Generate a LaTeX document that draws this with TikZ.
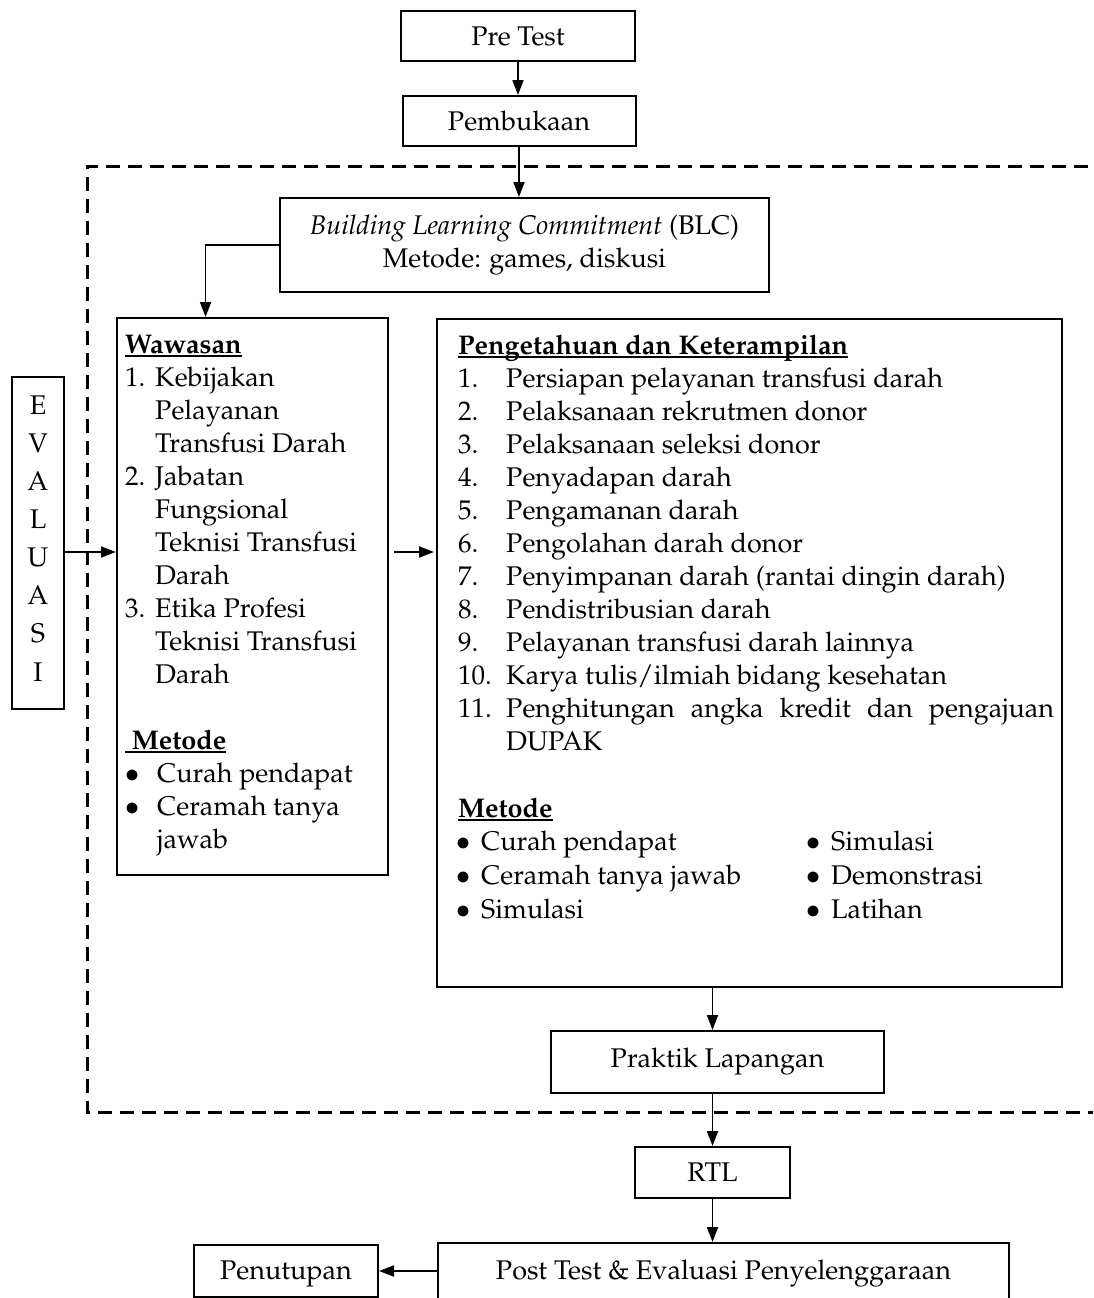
\documentclass[tikz,border=0pt]{standalone}
\usepackage[T1]{fontenc}
\usepackage{mathpazo}
\usetikzlibrary{calc,arrows.meta}

\newcommand\uln[1]{\setbox0\hbox{#1}\rlap{\rule[-4pt]{\wd0}{1.6pt}}\box0}

\tikzset{
  box/.style={draw, line width=2pt, inner sep=0pt, minimum height=50pt},
  flow/.style={-{Triangle[length=15pt,width=11pt]}, line width=1.8pt},
  txt/.style={anchor=west, inner sep=0pt, text height=20pt, text depth=6pt},
}

\begin{document}
\fontsize{27}{33}\selectfont
\begin{tikzpicture}[x=1pt,y=-1pt]
\useasboundingbox (0,0) rectangle (1093,1298);
\clip (0,0) rectangle (1093,1298);

% opening boxes
\node[box, minimum width=234pt] (pretest) at (518,36) {Pre Test};
\node[box, minimum width=233pt] (buka) at (519,121) {Pembukaan};

% dashed frame round the core sessions
\draw[dash pattern=on 14pt off 8pt, line width=3pt] (1110,166) -- (87,166) -- (87,1112) -- (1110,1112);

\node[box, minimum width=489pt, minimum height=94pt, align=center] (blc) at (524.5,245)
  {\textit{Building Learning Commitment} (BLC)\\Metode: games, diskusi};

\node[box, minimum width=271pt, minimum height=557pt] (wawasan) at (252.5,596.5) {};
\node[box, minimum width=625pt, minimum height=668pt] (ilmu) at (749.5,653) {};
\node[box, minimum width=52pt, minimum height=332pt] (eval) at (38,543) {};
\foreach \l [count=\i from 0] in {E,V,A,L,U,A,S,I}
  \node[inner sep=0pt] at (38,{405+\i*38.1}) {\l};

% closing boxes
\node[box, minimum width=333pt, minimum height=62pt] (praktik) at (717.5,1062) {Praktik Lapangan};
\node[box, minimum width=155pt, minimum height=51pt] (rtl) at (712.5,1172.5) {RTL};
\node[box, minimum width=571pt, minimum height=62pt] (post) at (723.5,1274) {Post Test \& Evaluasi Penyelenggaraan};
\node[box, minimum width=184pt, minimum height=52pt, text height=20pt, text depth=4pt] (tutup) at (286,1271) {Penutupan};

% Wawasan list
\node[txt] at (125,346) {\bfseries\uln{Wawasan}};
\foreach \t [count=\i from 0] in {Kebijakan, Pelayanan, Transfusi Darah, Jabatan, Fungsional,
    Teknisi Transfusi, Darah, Etika Profesi, Teknisi Transfusi, Darah}
  \node[txt] at (155,{379+\i*33}) {\t};
\foreach \n/\i in {1./0, 2./3, 3./7}
  \node[txt] at (125,{379+\i*33}) {\n};
\node[txt] at (125,742) {\bfseries\uln{\ Metode}};
\foreach \t/\y in {Curah pendapat/775, Ceramah tanya/808}
  \node[txt] at (125,\y) {$\bullet$};
\foreach \t/\y in {Curah pendapat/775, Ceramah tanya/808, jawab/841}
  \node[txt] at (157,\y) {\t};

% Pengetahuan dan Keterampilan list
\node[txt] at (458,347) {\bfseries\uln{Pengetahuan dan Keterampilan}};
\foreach \t [count=\i] in {Persiapan pelayanan transfusi darah, Pelaksanaan rekrutmen donor,
    Pelaksanaan seleksi donor, Penyadapan darah, Pengamanan darah, Pengolahan darah donor,
    Penyimpanan darah (rantai dingin darah), Pendistribusian darah,
    Pelayanan transfusi darah lainnya, Karya tulis/ilmiah bidang kesehatan}
{
  \node[txt] at (458,{380+(\i-1)*33}) {\i.};
  \node[txt] at (506,{380+(\i-1)*33}) {\t};
}
\node[txt] at (458,710) {11.};
\node[txt] at (506,710) {\makebox[548pt][s]{Penghitungan angka kredit dan pengajuan}};
\node[txt] at (506,743) {DUPAK};
\node[txt] at (458,810) {\bfseries\uln{Metode}};
\foreach \a/\b [count=\i from 0] in {Curah pendapat/Simulasi, Ceramah tanya jawab/Demonstrasi, Simulasi/Latihan}
{
  \node[txt] at (456,{843+\i*34}) {$\bullet$};
  \node[txt] at (481,{843+\i*34}) {\a};
  \node[txt] at (806,{843+\i*34}) {$\bullet$};
  \node[txt] at (831,{843+\i*34}) {\b};
}

% connectors
\coordinate (mid) at (0,552);
\draw[flow] (pretest) -- (pretest.south |- buka.north);
\draw[flow] (buka) -- (buka.south |- blc.north);
\draw[flow] (blc.west) -| ($(wawasan.north west)!0.328!(wawasan.north east)$);
\draw[flow] (eval.east |- mid) -- (wawasan.west |- mid);
\draw[flow] ([xshift=5pt]wawasan.east |- mid) -- ([xshift=-2pt]ilmu.west |- mid);
\draw[flow] (ilmu.south -| rtl) -- (praktik.north -| rtl);
\draw[flow] (praktik.south -| rtl) -- (rtl.north);
\draw[flow] (rtl) -- (rtl.south |- post.north);
\draw[flow] (post.west |- tutup) -- (tutup.east);

\end{tikzpicture}
\end{document}
